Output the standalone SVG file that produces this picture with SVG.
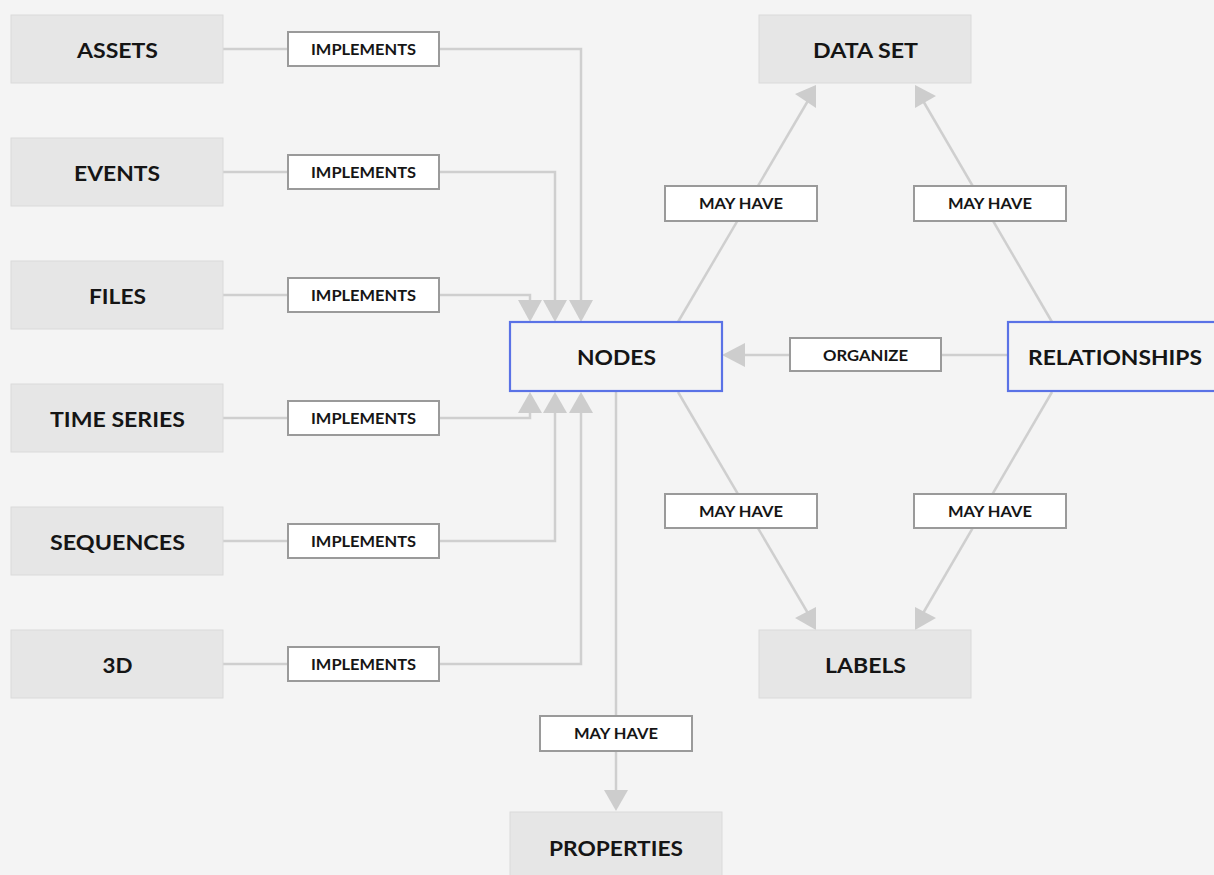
<svg xmlns="http://www.w3.org/2000/svg" width="1214" height="875" viewBox="0 0 1214 875">
  <style>
    .bg { fill: #f4f4f4; }
    .entity rect { fill: #e6e6e6; stroke: #dadada; stroke-width: 1; }
    .core rect { fill: #f4f4f4; stroke: #5a72e6; stroke-width: 2.2; }
    .title { font-family: Lato, "Liberation Sans", sans-serif; font-weight: 700; font-size: 21px; fill: #151515; text-anchor: middle; }
    .tag rect { fill: #ffffff; stroke: #9a9a9a; stroke-width: 2; }
    .tag text { font-family: Lato, "Liberation Sans", sans-serif; font-weight: 700; font-size: 14.5px; fill: #151515; text-anchor: middle; }
    .wire { fill: none; stroke: #cfcfcf; stroke-width: 2.5; }
    .head { fill: #cdcdcd; }
  </style>
  <rect class="bg" x="0" y="0" width="1214" height="875"/>

  <!-- connectors: wires, arrowheads and their relation labels -->
  <g id="connectors">
    <!-- IMPLEMENTS wires into NODES -->
    <polyline class="wire" points="223,49 581,49 581,301"/>
    <polyline class="wire" points="223,172 555,172 555,301"/>
    <polyline class="wire" points="223,295 530,295 530,301"/>
    <polyline class="wire" points="223,418 530,418 530,412"/>
    <polyline class="wire" points="223,541 555,541 555,412"/>
    <polyline class="wire" points="223,664 581,664 581,412"/>
    <polygon class="head" points="518,300 542,300 530,322"/>
    <polygon class="head" points="543,300 567,300 555,322"/>
    <polygon class="head" points="569,300 593,300 581,322"/>
    <polygon class="head" points="518,413 542,413 530,392"/>
    <polygon class="head" points="543,413 567,413 555,392"/>
    <polygon class="head" points="569,413 593,413 581,392"/>

    <!-- NODES may have PROPERTIES -->
    <line class="wire" x1="616" y1="392" x2="616" y2="792"/>
    <polygon class="head" points="604,790 628,790 616,811"/>

    <!-- RELATIONSHIPS organize NODES -->
    <line class="wire" x1="1008" y1="355" x2="744" y2="355"/>
    <polygon class="head" points="745,343 745,367 722,355"/>

    <!-- may have DATA SET -->
    <line class="wire" x1="678" y1="322" x2="809" y2="99"/>
    <polygon class="head" points="816,85 816,108 795,94"/>
    <line class="wire" x1="1052" y1="322" x2="922" y2="99"/>
    <polygon class="head" points="915,85 936,96 915,108"/>

    <!-- may have LABELS -->
    <line class="wire" x1="678" y1="392" x2="809" y2="615"/>
    <polygon class="head" points="816,607 795,618 816,630"/>
    <line class="wire" x1="1052" y1="392" x2="922" y2="615"/>
    <polygon class="head" points="915,607 936,618 915,630"/>

    <!-- relation labels -->
    <g class="tag"><rect x="288" y="32" width="151" height="34"/><text x="363.5" y="54.5" textLength="105" lengthAdjust="spacingAndGlyphs">IMPLEMENTS</text></g>
    <g class="tag"><rect x="288" y="155" width="151" height="34"/><text x="363.5" y="177.5" textLength="105" lengthAdjust="spacingAndGlyphs">IMPLEMENTS</text></g>
    <g class="tag"><rect x="288" y="278" width="151" height="34"/><text x="363.5" y="300.5" textLength="105" lengthAdjust="spacingAndGlyphs">IMPLEMENTS</text></g>
    <g class="tag"><rect x="288" y="401" width="151" height="34"/><text x="363.5" y="423.5" textLength="105" lengthAdjust="spacingAndGlyphs">IMPLEMENTS</text></g>
    <g class="tag"><rect x="288" y="524" width="151" height="34"/><text x="363.5" y="546.5" textLength="105" lengthAdjust="spacingAndGlyphs">IMPLEMENTS</text></g>
    <g class="tag"><rect x="288" y="647" width="151" height="34"/><text x="363.5" y="669.5" textLength="105" lengthAdjust="spacingAndGlyphs">IMPLEMENTS</text></g>
    <g class="tag"><rect x="665" y="186" width="152" height="35"/><text x="741" y="209" textLength="84" lengthAdjust="spacingAndGlyphs">MAY HAVE</text></g>
    <g class="tag"><rect x="914" y="186" width="152" height="35"/><text x="990" y="209" textLength="84" lengthAdjust="spacingAndGlyphs">MAY HAVE</text></g>
    <g class="tag"><rect x="665" y="494" width="152" height="34"/><text x="741" y="517" textLength="84" lengthAdjust="spacingAndGlyphs">MAY HAVE</text></g>
    <g class="tag"><rect x="914" y="494" width="152" height="34"/><text x="990" y="517" textLength="84" lengthAdjust="spacingAndGlyphs">MAY HAVE</text></g>
    <g class="tag"><rect x="540" y="716" width="152" height="35"/><text x="616" y="739" textLength="84" lengthAdjust="spacingAndGlyphs">MAY HAVE</text></g>
    <g class="tag"><rect x="790" y="338" width="151" height="33"/><text x="865.5" y="360.5" textLength="85" lengthAdjust="spacingAndGlyphs">ORGANIZE</text></g>
  </g>

  <!-- resource types -->
  <g id="assets" class="entity"><rect x="11" y="15" width="212" height="68"/><text class="title" x="117.5" y="58" textLength="81" lengthAdjust="spacingAndGlyphs">ASSETS</text></g>
  <g id="events" class="entity"><rect x="11" y="138" width="212" height="68"/><text class="title" x="117" y="181" textLength="86" lengthAdjust="spacingAndGlyphs">EVENTS</text></g>
  <g id="files" class="entity"><rect x="11" y="261" width="212" height="68"/><text class="title" x="117.5" y="304" textLength="57" lengthAdjust="spacingAndGlyphs">FILES</text></g>
  <g id="time-series" class="entity"><rect x="11" y="384" width="212" height="68"/><text class="title" x="117.5" y="427" textLength="135" lengthAdjust="spacingAndGlyphs">TIME SERIES</text></g>
  <g id="sequences" class="entity"><rect x="11" y="507" width="212" height="68"/><text class="title" x="117.5" y="550" textLength="135" lengthAdjust="spacingAndGlyphs">SEQUENCES</text></g>
  <g id="three-d" class="entity"><rect x="11" y="630" width="212" height="68"/><text class="title" x="117.5" y="673" textLength="30" lengthAdjust="spacingAndGlyphs">3D</text></g>

  <!-- graph core -->
  <g id="nodes" class="core"><rect x="510" y="322" width="212" height="69"/><text class="title" x="616.5" y="365" textLength="79" lengthAdjust="spacingAndGlyphs">NODES</text></g>
  <g id="relationships" class="core"><rect x="1008" y="322" width="214" height="69"/><text class="title" x="1115" y="365" textLength="174" lengthAdjust="spacingAndGlyphs">RELATIONSHIPS</text></g>

  <!-- attachments -->
  <g id="data-set" class="entity"><rect x="759" y="15" width="212" height="68"/><text class="title" x="865.5" y="58" textLength="105" lengthAdjust="spacingAndGlyphs">DATA SET</text></g>
  <g id="labels" class="entity"><rect x="759" y="630" width="212" height="68"/><text class="title" x="865.5" y="673" textLength="81" lengthAdjust="spacingAndGlyphs">LABELS</text></g>
  <g id="properties" class="entity"><rect x="510" y="812" width="212" height="70"/><text class="title" x="616" y="856" textLength="134" lengthAdjust="spacingAndGlyphs">PROPERTIES</text></g>
</svg>
